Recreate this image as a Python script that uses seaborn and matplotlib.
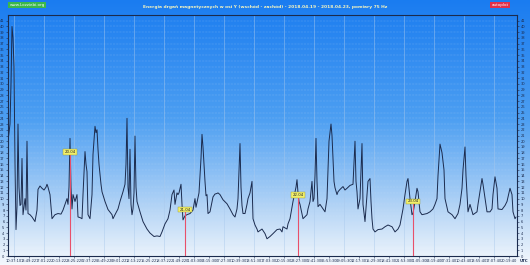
import numpy as np
import matplotlib
matplotlib.use("Agg")
import matplotlib.pyplot as plt
import seaborn as sns
import pandas as pd
from matplotlib.colors import LinearSegmentedColormap

sns.set_style("white")
plt.rcParams['font.family'] = ['DejaVu Sans']

# (sample index, energy) pairs; 1 sample = 12.8 min
trace = [
    (0, 20), (2, 23), (3, 30), (4, 40), (5, 38), (6, 33), (7, 16), (8, 4.6), (9, 8.6), (10, 23),
    (11, 12), (12, 8.8), (13, 9), (14, 17), (15, 7.2), (16, 8.5), (17, 10), (18, 8), (19, 20),
    (20, 7.4), (22, 7.2), (24, 6.8), (27, 6.0), (29, 8), (30, 11.6), (32, 12.2), (34, 11.8),
    (36, 11.5), (38, 12.0), (39, 12.5), (40, 12.0), (42, 10.7), (44, 6.5), (47, 7.2), (50, 7.4),
    (53, 7.3), (55, 8), (57, 9), (59, 10), (60, 9), (61, 12), (62, 20.5), (63, 12), (64, 8.2),
    (65, 10.7), (67, 9.5), (69, 10.7), (70, 6.8), (72, 6.7), (74, 6.5), (75, 10.7), (77, 18.2),
    (78, 16), (79, 14.7), (80, 7.2), (82, 6.5), (84, 10.7), (85, 17.7), (87, 22.6), (88, 21.5),
    (89, 22), (90, 18.6), (91, 16), (92, 14.2), (93, 12.5), (94, 11.2), (97, 9.5), (100, 8.1),
    (104, 7.2), (105, 6.5), (107, 7.2), (110, 8.2), (112, 9.5), (115, 11.2), (117, 12.5),
    (118, 16), (119, 24), (120, 12), (121, 10), (122, 18.6), (123, 9), (124, 7.2), (125, 8.2),
    (126, 11), (127, 20.9), (128, 12), (129, 9.5), (132, 7.7), (135, 6.0), (139, 4.7), (142, 4.0),
    (144, 3.7), (146, 3.4), (149, 3.5), (152, 3.4), (154, 4.2), (157, 5.6), (160, 6.5), (162, 8),
    (164, 10.7), (166, 11.5), (167, 9), (169, 11), (170, 10.7), (171, 11), (173, 12.5), (174, 9),
    (175, 6.3), (177, 7), (179, 7.2), (182, 7.4), (185, 8), (187, 10), (188, 8.5), (191, 11),
    (193, 17), (194, 21.2), (195, 19), (196, 16), (197, 13), (198, 10.5), (199, 10.7), (200, 7.4),
    (202, 7.7), (205, 10.3), (207, 10.8), (209, 10.9), (210, 11), (212, 10.7), (215, 9.8),
    (219, 9.1), (222, 8.2), (225, 7.2), (227, 6.8), (229, 8.2), (230, 10), (231, 15), (232, 19.6),
    (233, 12), (234, 8.8), (235, 7.4), (237, 7.4), (239, 9), (240, 10), (242, 11), (244, 13),
    (245, 6.5), (247, 5.4), (249, 4.7), (250, 4.2), (254, 4.7), (257, 3.9), (259, 3.0), (262, 3.4),
    (265, 3.9), (269, 4.6), (272, 4.7), (274, 4.2), (275, 5.1), (279, 4.7), (280, 5.6), (282, 6.5),
    (285, 9.5), (287, 11.2), (288, 12), (289, 13.3), (290, 11), (291, 9.5), (292, 9), (295, 6.5),
    (299, 7.2), (300, 8.2), (302, 9.5), (304, 13), (305, 9.5), (306, 10), (307, 14), (308, 20.5),
    (309, 13), (310, 8.6), (312, 9), (315, 8.2), (317, 7.7), (319, 10), (320, 15), (321, 20),
    (323, 23), (324, 21), (325, 17), (326, 13), (327, 11.9), (329, 10.7), (330, 11.2), (332, 11.6),
    (335, 12.1), (337, 11.5), (339, 11.8), (342, 12.3), (345, 12.5), (347, 20), (348, 13),
    (349, 11.2), (350, 8.2), (352, 10), (354, 19.6), (355, 9), (357, 6), (359, 10.7), (360, 13),
    (362, 13.5), (363, 9.5), (364, 6.5), (365, 4.7), (367, 4.2), (370, 4.6), (374, 4.7), (377, 5.1),
    (380, 5.4), (384, 5.1), (387, 4.2), (390, 4.7), (392, 5.4), (395, 8.2), (397, 10.7), (399, 13),
    (400, 13.5), (402, 10), (404, 7.2), (405, 7.4), (407, 9.5), (409, 11.8), (410, 11.2),
    (412, 7.7), (414, 7.2), (419, 7.4), (422, 7.7), (425, 8.2), (427, 9), (429, 10), (430, 14),
    (432, 19.5), (434, 18), (436, 15), (437, 10), (440, 7.7), (444, 7.2), (447, 6.5), (450, 7.4),
    (452, 9), (454, 11.8), (455, 15), (457, 19), (458, 14), (459, 10.7), (460, 7.7), (462, 9),
    (465, 7.2), (469, 7.7), (470, 9), (472, 11.2), (474, 13.5), (475, 12.5), (479, 7.7), (482, 7.7),
    (484, 8.2), (485, 10.7), (487, 13.8), (489, 11.8), (490, 8.2), (494, 8.1), (497, 8.8),
    (499, 9.5), (502, 11.8), (504, 10.7), (505, 7.7), (507, 6.5), (508, 6.8),
]
t_idx = [p[0] for p in trace]
energy = [p[1] for p in trace]

tick_labels = ["10:37:10", "13:49:22", "17:01:22", "20:13:22", "23:25:22", "02:37:22", "05:49:22",
               "09:01:22", "12:13:22", "15:25:22", "18:37:22", "21:49:22", "01:03:30", "04:15:30",
               "07:27:30", "10:39:30", "13:51:30", "17:03:30", "20:15:30", "23:27:30", "02:41:30",
               "05:53:30", "09:05:30", "12:17:30", "15:29:30", "18:41:30", "21:53:30", "01:05:30",
               "04:19:40", "07:31:40", "10:43:40", "13:55:40", "17:07:40", "20:19:40"]

midnight_idx = [62, 177, 290, 405]
midnight_val = [18.1, 8.1, 10.7, 9.5]
midnight_lbl = ["20.04", "21.04", "22.04", "23.04"]

title = "Energia drgań magnetycznych w osi Y (wschód - zachód) - 2018.04.19 - 2018.04.23, pomiary 75 Hz"

df = pd.DataFrame({"t": t_idx, "e": energy})

W, H = 530, 265
fig = plt.figure(figsize=(W / 100, H / 100), dpi=100)

# gradient background
bg = fig.add_axes([0, 0, 1, 1], zorder=0)
cmap = LinearSegmentedColormap.from_list(
    "bgc", [(0, "#1a7cf0"), (0.45, "#4d9ff2"), (0.8, "#b9d7f6"), (1, "#f4f8fd")])
grad = np.linspace(0, 1, 256).reshape(-1, 1)
bg.imshow(grad, aspect="auto", cmap=cmap, extent=[0, 1, 0, 1], origin="upper")
bg.axis("off")

x0, x1, y0, y1 = 8, 517, 15, 256
ax = fig.add_axes([x0 / W, 1 - y1 / H, (x1 - x0) / W, (y1 - y0) / H], zorder=1)
ax.patch.set_alpha(0)

sns.lineplot(data=df, x="t", y="e", ax=ax, color="#1b2b4e", lw=0.7, zorder=3)

ax.set_xlim(0, 509)
ax.set_ylim(0, 42)
ax.set_xlabel("")
ax.set_ylabel("")

xt = [6 + 15 * i for i in range(len(tick_labels))]
ax.set_xticks(xt)
ax.set_xticklabels(tick_labels, fontsize=2.6, color="#1b2b4e")
ax.set_yticks(range(0, 42))
ax.set_yticklabels([str(i) for i in range(0, 42)], fontsize=2.6, color="#1b2b4e")
ax.tick_params(axis="both", length=1.5, width=0.4, pad=1, colors="#1b2b4e")
ax.tick_params(axis="y", left=True, right=True, labelleft=True, labelright=True)
ax.tick_params(axis="x", bottom=True)

for y in range(1, 42):
    ax.axhline(y, color="#d8e8f8", lw=0.35, ls=(0, (1, 2)), alpha=0.6, zorder=1)
for x in xt[::2]:
    ax.axvline(x, color="#a9c9ec", lw=0.45, alpha=0.7, zorder=1)

for s in ax.spines.values():
    s.set_color("#1b2b4e")
    s.set_linewidth(0.8)

for mi, mv, ml in zip(midnight_idx, midnight_val, midnight_lbl):
    ax.vlines(mi, 0, mv, color="#e8506a", lw=0.8, zorder=4)
    ax.text(mi, mv, ml, fontsize=2.8, ha="center", va="center", color="#222222", zorder=5,
            bbox=dict(boxstyle="square,pad=0.25", fc="#f2ef6a", ec="#9a9a30", lw=0.3))

fig.text(265 / W, 1 - 7 / H, title, fontsize=3.2, ha="center", va="center",
         color="#f4f4c0", fontweight="bold")
fig.text(27 / W, 1 - 5 / H, "www.Lozziebi.org", fontsize=3, ha="center", va="center",
         color="#ffffff", bbox=dict(boxstyle="square,pad=0.3", fc="#3bb84a", ec="none"))
fig.text(500 / W, 1 - 5 / H, "autoplot", fontsize=3, ha="center", va="center", color="#ffffff",
         bbox=dict(boxstyle="square,pad=0.3", fc="#e0304a", ec="none"))
fig.text(524 / W, 1 - 261 / H, "UTC", fontsize=2.8, ha="center", va="center",
         color="#1b2b4e", fontweight="bold")

fig.savefig("out.png", dpi=100)
